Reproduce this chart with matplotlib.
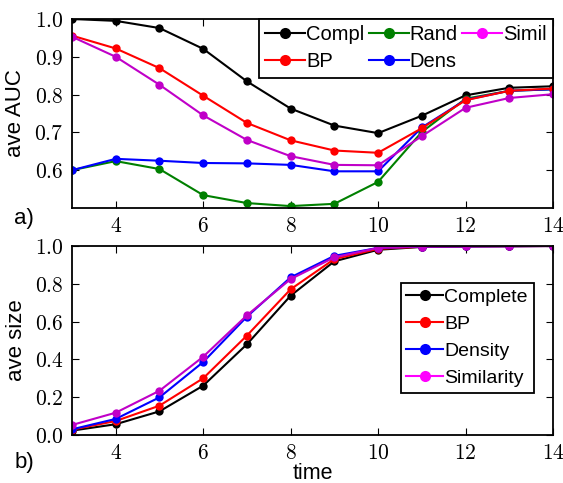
import matplotlib
matplotlib.use("Agg")
import matplotlib.pyplot as plt
from matplotlib.lines import Line2D
from matplotlib.ticker import FuncFormatter

plt.rcParams["font.family"] = ["Liberation Sans", "DejaVu Sans"]
plt.rcParams["mathtext.fontset"] = "cm"

time = [3, 4, 5, 6, 7, 8, 9, 10, 11, 12, 13, 14]

# panel a) average AUC
auc_compl = [1.000, 0.995, 0.976, 0.921, 0.835, 0.763, 0.718, 0.698, 0.744, 0.798, 0.818, 0.822]
auc_bp = [0.956, 0.922, 0.870, 0.797, 0.725, 0.679, 0.652, 0.646, 0.711, 0.785, 0.810, 0.816]
auc_rand = [0.600, 0.624, 0.603, 0.534, 0.513, 0.505, 0.511, 0.569, 0.701, 0.789, 0.810, 0.814]
auc_dens = [0.600, 0.630, 0.625, 0.619, 0.618, 0.614, 0.597, 0.597, 0.713, 0.786, 0.810, 0.814]
auc_simil = [0.953, 0.900, 0.826, 0.745, 0.680, 0.637, 0.614, 0.613, 0.690, 0.765, 0.791, 0.801]
auc_err = [0.003, 0.003, 0.004, 0.004, 0.004, 0.004, 0.004, 0.005, 0.006, 0.006, 0.006, 0.006]

# panel b) average size
size_compl = [0.023, 0.057, 0.125, 0.261, 0.480, 0.737, 0.919, 0.980, 0.995, 0.998, 0.999, 1.0]
size_bp = [0.028, 0.074, 0.155, 0.300, 0.526, 0.771, 0.931, 0.985, 0.996, 0.998, 0.999, 1.0]
size_dens = [0.030, 0.085, 0.199, 0.386, 0.626, 0.834, 0.948, 0.990, 0.997, 0.998, 0.999, 1.0]
size_simil = [0.053, 0.118, 0.234, 0.414, 0.633, 0.825, 0.940, 0.990, 0.997, 0.998, 0.999, 1.0]
size_err = [0.004, 0.005, 0.006, 0.008, 0.008, 0.007, 0.005, 0.003, 0.002, 0.001, 0.001, 0.001]

PURPLE = "#c000c8"

fig = plt.figure(figsize=(5.63, 4.83), dpi=100)
ax1 = fig.add_axes([0.1279, 0.5694, 0.8543, 0.3913])
ax2 = fig.add_axes([0.1279, 0.0994, 0.8543, 0.3913])


def draw(ax, y, err, color):
    ax.errorbar(time, y, yerr=err, color=color, marker="o", markersize=6,
                markeredgewidth=0, lw=1.5, capsize=3.5, elinewidth=1.2)


for y, c in [(auc_compl, "k"), (auc_rand, "green"), (auc_dens, "blue"),
             (auc_bp, "red"), (auc_simil, PURPLE)]:
    draw(ax1, y, auc_err, c)

for y, c in [(size_compl, "k"), (size_bp, "red"), (size_dens, "blue"), (size_simil, PURPLE)]:
    draw(ax2, y, size_err, c)


def handle(c):
    return Line2D([0], [0], color=c, marker="o", markersize=8, markeredgewidth=0, lw=1.5)


leg1 = ax1.legend([handle("k"), handle("red"), handle("green"), handle("blue"), handle("magenta")],
                  ["Compl", "BP", "Rand", "Dens", "Simil"], ncol=3, loc="upper right",
                  borderaxespad=0, fancybox=False, edgecolor="k", fontsize=14.5,
                  handlelength=2.0, handletextpad=0.05, columnspacing=0.2, labelspacing=0.42,
                  borderpad=0.3, framealpha=1)
leg2 = ax2.legend([handle("k"), handle("red"), handle("blue"), handle("magenta")],
                  ["Complete", "BP", "Density", "Similarity"], loc="center right",
                  bbox_to_anchor=(0.98, 0.515), fancybox=False, edgecolor="k", fontsize=14,
                  handlelength=1.9, handletextpad=0.05, labelspacing=0.48, borderpad=0.3,
                  framealpha=1)
for leg in (leg1, leg2):
    leg.get_frame().set_linewidth(1.3)

fmt = FuncFormatter(lambda v, p: f"${v:.1f}$")
xfmt = FuncFormatter(lambda v, p: f"${int(v)}$")

ax1.set_ylim(0.5, 1.0)
ax1.set_yticks([0.6, 0.7, 0.8, 0.9, 1.0])
ax2.set_ylim(0.0, 1.0)
ax2.set_yticks([0.0, 0.2, 0.4, 0.6, 0.8, 1.0])
for ax in (ax1, ax2):
    ax.set_xlim(3, 14)
    ax.set_xticks([4, 6, 8, 10, 12, 14])
    ax.yaxis.set_major_formatter(fmt)
    ax.xaxis.set_major_formatter(xfmt)
    ax.tick_params(direction="in", top=True, right=True, length=5, labelsize=15.5, pad=6)
    for s in ax.spines.values():
        s.set_linewidth(1.3)

ax1.set_ylabel("ave AUC", fontsize=16, labelpad=6)
ax2.set_ylabel("ave size", fontsize=16, labelpad=6)
ax2.set_xlabel("time", fontsize=15.5, labelpad=-1)

fig.text(0.025, 0.547, "a)", fontsize=16, va="center")
fig.text(0.025, 0.043, "b)", fontsize=16, va="center")

fig.savefig("out.png", dpi=100)
